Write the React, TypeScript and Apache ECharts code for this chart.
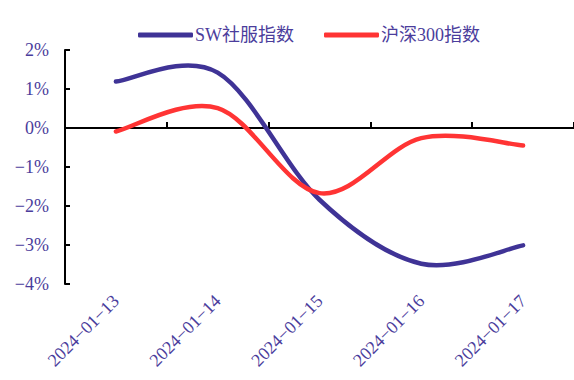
import React, { useEffect, useRef } from "react";
import * as echarts from "echarts";

const categories = ["2024-01-13", "2024-01-14", "2024-01-15", "2024-01-16", "2024-01-17"];
const swSocialService = [1.19, 1.42, -1.84, -3.48, -3.01];
const csi300 = [-0.09, 0.51, -1.67, -0.26, -0.45];
const seriesNames = ["SW社服指数", "沪深300指数"];

const TEXT = "#4B3D9C";
const FONT = "Liberation Serif, Times New Roman, Noto Sans CJK SC, serif";
const minus = (s: string) => s.replace(/-/g, "\u2212");

// Smoothed line through every point (cardinal spline, tension 1/6),
// positioned through the cartesian axes via api.coord.
function smoothLine(values: number[], color: string) {
  return (params: any, api: any) => {
    if (params.dataIndex !== 0) return null;
    const pts = values.map((v, i) => api.coord([i, v]));
    const n = pts.length;
    let d = `M${pts[0][0]},${pts[0][1]}`;
    for (let i = 0; i < n - 1; i++) {
      const p0 = pts[Math.max(i - 1, 0)];
      const p1 = pts[i];
      const p2 = pts[i + 1];
      const p3 = pts[Math.min(i + 2, n - 1)];
      const c1x = p1[0] + (p2[0] - p0[0]) / 6;
      const c1y = p1[1] + (p2[1] - p0[1]) / 6;
      const c2x = p2[0] - (p3[0] - p1[0]) / 6;
      const c2y = p2[1] - (p3[1] - p1[1]) / 6;
      d += ` C${c1x},${c1y} ${c2x},${c2y} ${p2[0]},${p2[1]}`;
    }
    return {
      type: "path",
      shape: { pathData: d },
      style: { fill: "none", stroke: color, lineWidth: 4.5, lineCap: "round", lineJoin: "round" },
      silent: true,
    };
  };
}

export default function App() {
  const ref = useRef<HTMLDivElement>(null);

  useEffect(() => {
    if (!ref.current) return;
    const chart = echarts.init(ref.current, undefined, { renderer: "svg" });
    const makeSeries = (name: string, values: number[], color: string) => ({
      name,
      type: "custom",
      coordinateSystem: "cartesian2d",
      xAxisIndex: 0,
      yAxisIndex: 0,
      clip: false,
      data: values.map((v, i) => [i, v]),
      encode: { x: 0, y: 1 },
      itemStyle: { color },
      renderItem: smoothLine(values, color),
    });
    chart.setOption({
      animation: false,
      backgroundColor: "#ffffff",
      textStyle: { fontFamily: FONT },
      legend: {
        top: 21,
        left: 133,
        itemWidth: 55,
        itemHeight: 5,
        itemGap: 30,
        icon: "roundRect",
        textStyle: { color: TEXT, fontSize: 18, fontFamily: FONT, padding: [0, 0, 0, -3] },
        data: seriesNames,
      },
      grid: { left: 65, right: 0, top: 50, bottom: 96, containLabel: false },
      xAxis: [
        {
          type: "category",
          data: categories,
          position: "bottom",
          boundaryGap: true,
          axisLine: { show: false, onZero: false },
          axisTick: { show: false },
          axisLabel: {
            interval: 0,
            rotate: 45,
            margin: 14,
            color: TEXT,
            fontSize: 18,
            fontFamily: FONT,
            formatter: (v: string) => minus(v),
          },
          splitLine: { show: false },
        },
        {
          type: "category",
          data: categories,
          position: "top",
          boundaryGap: true,
          axisLine: { show: true, onZero: true, lineStyle: { color: "#000", width: 2 } },
          axisTick: { show: true, inside: false, length: 6, lineStyle: { color: "#000", width: 2 } },
          axisLabel: { show: false },
          splitLine: { show: false },
        },
      ],
      yAxis: {
        type: "value",
        min: -4,
        max: 2,
        interval: 1,
        axisLine: { show: true, lineStyle: { color: "#000", width: 2 } },
        axisTick: { show: true, inside: true, length: 5, lineStyle: { color: "#000", width: 2 } },
        axisLabel: {
          color: TEXT,
          fontSize: 18,
          fontFamily: FONT,
          margin: 16,
          formatter: (v: number) => minus(`${v}%`),
        },
        splitLine: { show: false },
      },
      series: [
        makeSeries(seriesNames[0], swSocialService, "#3F3396"),
        makeSeries(seriesNames[1], csi300, "#FF3434"),
      ],
    });
    return () => chart.dispose();
  }, []);

  return (
    <div
      ref={ref}
      style={{ position: "fixed", left: 0, top: 0, width: 574, height: 380 }}
    />
  );
}
